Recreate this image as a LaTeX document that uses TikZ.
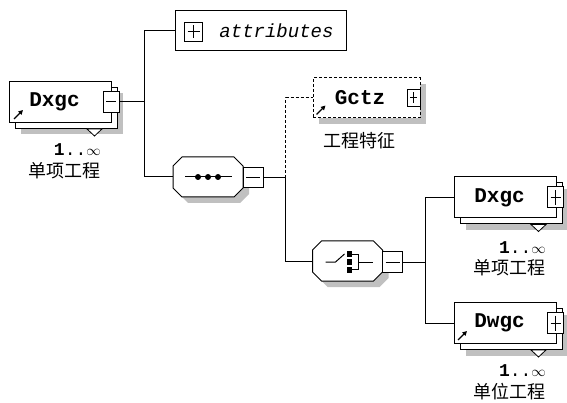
\documentclass[tikz,border=0pt]{standalone}
\usepackage{fontspec}
\setmonofont{Liberation Mono}
\newfontfamily\cjk{Noto Sans CJK SC}
\usepackage{tikz}
\usetikzlibrary{arrows.meta,positioning,calc,shadows}
\definecolor{xsInk}{HTML}{000000}
\definecolor{xsShadow}{HTML}{C0C0C0}
\tikzset{
  elbox/.style={rectangle,draw=xsInk,fill=white,line width=1pt,
    minimum width=102pt,minimum height=41pt,inner sep=0pt,
    font=\ttfamily\bfseries\fontsize{21}{21}\selectfont,
    general shadow={fill=xsShadow,shadow xshift=11pt,shadow yshift=-12pt},
    copy shadow={shadow xshift=6pt,shadow yshift=-6pt}},
  optbox/.style={rectangle,draw=xsInk,fill=white,line width=1pt,
    dash pattern=on 3pt off 2pt,
    minimum width=107pt,minimum height=40pt,inner sep=0pt,
    font=\ttfamily\bfseries\fontsize{21}{21}\selectfont,
    general shadow={fill=xsShadow,shadow xshift=6pt,shadow yshift=-6pt}},
  attrbox/.style={rectangle,draw=xsInk,fill=white,line width=1pt,
    minimum width=171pt,minimum height=40pt,inner sep=0pt,
    font=\ttfamily\itshape\fontsize{19}{19}\selectfont},
  compbox/.style={rectangle,minimum width=70pt,minimum height=40pt,inner sep=0pt},
  octo/.style={line width=1pt,draw=xsInk,fill=white},
  btn/.style={rectangle,draw=xsInk,fill=white,line width=1pt,
    minimum width=16pt,minimum height=21pt,inner sep=0pt},
  btnminus/.style={btn,path picture={
    \draw[line width=1pt] ($(path picture bounding box.west)+(3,0)$)
      -- ($(path picture bounding box.east)+(-3,0)$);}},
  btnplus/.style={btn,path picture={
    \draw[line width=1pt] ($(path picture bounding box.west)+(3,0)$)
      -- ($(path picture bounding box.east)+(-3,0)$);
    \draw[line width=1pt] ($(path picture bounding box.north)+(0,3)$)
      -- ($(path picture bounding box.south)+(0,-3)$);}},
  tri/.style={draw=xsInk,fill=white,line width=0.8pt},
  refarr/.style={line width=1.3pt,-{Triangle[length=4.5pt,width=4.5pt]}},
  conn/.style={line width=1pt,draw=xsInk},
  connd/.style={conn,dash pattern=on 3pt off 2pt},
  occ/.style={font=\ttfamily\fontsize{18}{18}\selectfont,anchor=east,inner sep=0pt},
  zhlbl/.style={font=\cjk\fontsize{18}{18}\selectfont,anchor=east,inner sep=0pt},
}
\newcommand{\occinf}{\textbf{1}..{\fontsize{14}{14}\selectfont$\infty$}}

\begin{document}
\begin{tikzpicture}[x=1pt,y=-1pt]
  \useasboundingbox (0,0) rectangle (567,403);

  % root element
  \node[elbox] (root) at (60.5,102) {Dxgc\hspace*{12pt}};
  \node[btnminus] (rootbtn) at ($(root.east)+(-1,0)$) {};
  \draw[tri] ($(root.south west)+(78,6)$) -- ++(15,0) -- ++(-7.5,7) -- cycle;
  \draw[refarr] ($(root.south west)+(5,-4)$) -- ++(9,-9);
  \node[occ] (rootocc) at ($(root.south west)+(92,27)$) {\occinf};
  \node[zhlbl] (rootzh) at ($(root.south west)+(92,48)$) {单项工程};

  % attributes
  \node[attrbox] (attr) at (260.5,31) {\hspace*{32pt}attributes};
  \node[btnplus,minimum width=18pt,minimum height=19pt] (attrbtn)
    at ($(attr.west)+(19,1)$) {};

  % compositors (sequence, choice)
  \node[compbox] (seq) at (208,177) {};
  \node[compbox] (choice) at (347.5,261) {};
  \foreach \c in {seq,choice} {
    \begin{scope}[shift={(\c.center)}]
      \fill[xsShadow,shift={(6,6)}] (-26,-20) -- (26,-20) -- (35,-11) -- (35,11)
        -- (26,20) -- (-26,20) -- (-35,11) -- (-35,-11) -- cycle;
      \draw[octo] (-26,-20) -- (26,-20) -- (35,-11) -- (35,11)
        -- (26,20) -- (-26,20) -- (-35,11) -- (-35,-11) -- cycle;
    \end{scope}
  }
  \node[btnminus,minimum width=20pt,minimum height=20pt] (seqbtn)
    at ($(seq.east)+(10,1)$) {};
  \node[btnminus,minimum width=20pt,minimum height=20pt] (choicebtn)
    at ($(choice.east)+(10,1)$) {};
  \begin{scope}[shift={(seq.center)}]
    \draw[conn] (-23,0) -- (24,0);
    \foreach \dx in {-10,0,10}
      \fill[xsInk] (\dx,0) circle (3pt);
  \end{scope}
  \begin{scope}[shift={(choice.center)}]
    \draw[conn] (-22,1) -- (-12,1) -- (-3,-7);
    \foreach \dy in {-10,-2,6}
      \fill[xsInk] (-0.5,\dy) rectangle ++(5,5.5);
    \draw[conn] (4.5,-7) -- (10.5,-7) -- (10.5,8) -- (4.5,8);
    \draw[conn] (10.5,1) -- (25.5,1);
  \end{scope}

  % optional Gctz
  \node[optbox] (gctz) at (366.5,98) {Gctz\hspace*{13pt}};
  \node[btnplus,minimum width=13pt,minimum height=17pt] (gctzbtn)
    at ($(gctz.east)+(-7,0)$) {};
  \draw[refarr] ($(gctz.south west)+(4,-4)$) -- ++(9,-9);
  \node[zhlbl,anchor=center] (gctzzh) at ($(gctz.south)+(-7,22)$) {工程特征};

  % child Dxgc
  \node[elbox] (dxgc) at (505.5,197.5) {Dxgc\hspace*{12pt}};
  \node[btnplus] (dxgcbtn) at ($(dxgc.east)+(-1.5,0)$) {};
  \draw[tri] ($(dxgc.south west)+(77,6)$) -- ++(15,0) -- ++(-7.5,7) -- cycle;
  \node[occ] (dxgcocc) at ($(dxgc.south west)+(92,29)$) {\occinf};
  \node[zhlbl] (dxgczh) at ($(dxgc.south west)+(92,49)$) {单项工程};

  % child Dwgc
  \node[elbox] (dwgc) at (505.5,323) {Dwgc\hspace*{12pt}};
  \node[btnplus] (dwgcbtn) at ($(dwgc.east)+(-1.5,0)$) {};
  \draw[tri] ($(dwgc.south west)+(77,6)$) -- ++(15,0) -- ++(-7.5,7) -- cycle;
  \draw[refarr] ($(dwgc.south west)+(4,-4)$) -- ++(9,-9);
  \node[occ] (dwgcocc) at ($(dwgc.south west)+(92,27)$) {\occinf};
  \node[zhlbl] (dwgczh) at ($(dwgc.south west)+(92,48)$) {单位工程};

  % connectors
  \coordinate (fork1) at ($(rootbtn.east)+(25,0)$);
  \draw[conn] (rootbtn.east) -- (fork1);
  \draw[conn] (attr.west) -| (fork1) |- (seq.west);
  \coordinate (fork2) at ($(seqbtn.east)+(22,0)$);
  \draw[conn] (seqbtn.east) -- (fork2) |- (choice.west);
  \draw[connd] (fork2) |- (gctz.west);
  \coordinate (fork3) at ($(choicebtn.east)+(22,0)$);
  \draw[conn] (choicebtn.east) -- (fork3);
  \draw[conn] (dxgc.west) -| (fork3) |- (dwgc.west);
\end{tikzpicture}
\end{document}
